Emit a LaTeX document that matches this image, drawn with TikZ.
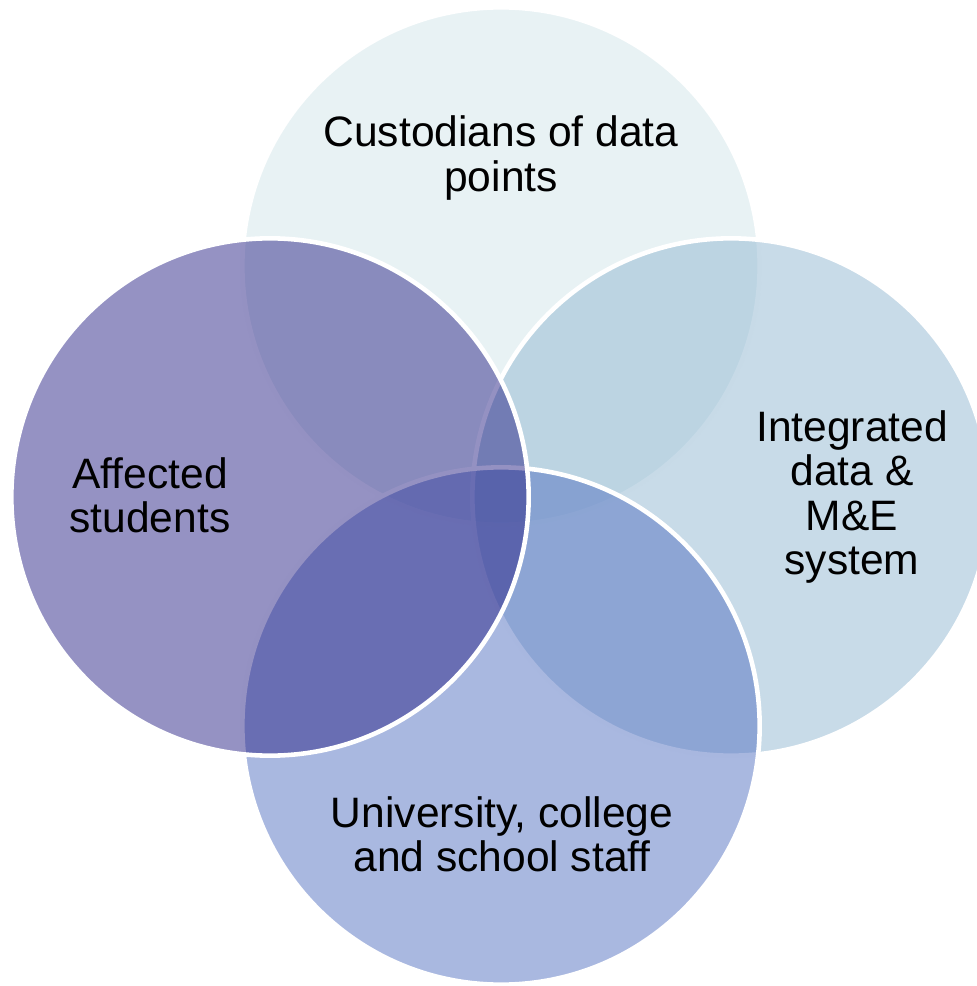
\documentclass[tikz,border=0pt]{standalone}
\usepackage{fontspec}
\setmainfont{Liberation Sans}
\usepackage{xcolor}
\usepackage{tikz}
\usetikzlibrary{positioning}

\definecolor{custodianCol}{RGB}{209,229,233}
\definecolor{systemCol}{RGB}{145,183,209}
\definecolor{staffCol}{RGB}{83,113,193}
\definecolor{studentCol}{RGB}{43,37,135}

\begin{document}
\begin{tikzpicture}[
    x=0.01cm, y=-0.01cm,
    venn/.style={circle, draw=white, line width=1.3pt, fill=#1, fill opacity=0.5, draw opacity=1, minimum size=5.17cm, inner sep=0pt},
    txt/.style={font=\fontsize{12.1}{12.6}\selectfont, align=center, text=black}
]
\useasboundingbox (0,0) rectangle (977,986);

% Circles
\node[venn=custodianCol] (custodians) at (501,266) {};
\node[venn=systemCol] (system) at (731,497) {};
\node[venn=staffCol] (staff) at (501,726) {};
\node[venn=studentCol] (students) at (270,497) {};

% Labels
\node[txt] (custodiansText) at (501,158) {Custodians of data\\points};
\node[txt] (systemText) at (852,497) {Integrated\\data \&\\M\&E\\system};
\node[txt] (staffText) at (502,834) {University, college\\and school staff};
\node[txt] (studentsText) at (150,495) {Affected\\students};
\end{tikzpicture}
\end{document}
